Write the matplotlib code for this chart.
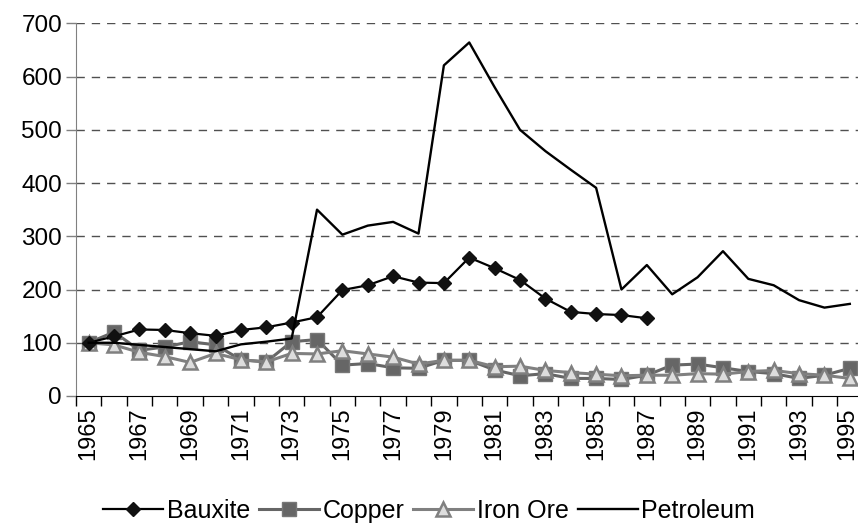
import matplotlib
matplotlib.use("Agg")
import matplotlib.pyplot as plt
from matplotlib.ticker import FixedLocator, NullFormatter
from matplotlib.transforms import ScaledTranslation

plt.rcParams['font.family'] = ['Liberation Sans', 'DejaVu Sans']

years = list(range(1965, 1996))

bauxite = [100, 112, 125, 124, 118, 113, 124, 129, 138, 148, 199, 208, 225, 213, 212,
           260, 240, 218, 183, 158, 154, 152, 146]
copper = [100, 120, 86, 92, 102, 96, 68, 64, 102, 106, 58, 61, 53, 52, 67,
          67, 49, 38, 42, 33, 33, 31, 39, 58, 60, 53, 46, 42, 33, 39, 52]
iron_ore = [100, 96, 82, 74, 63, 80, 68, 64, 80, 79, 85, 79, 73, 60, 67,
            67, 55, 56, 48, 44, 41, 38, 39, 39, 42, 41, 46, 48, 42, 39, 33]
petroleum = [100, 100, 96, 92, 88, 84, 97, 102, 108, 350, 303, 320, 327, 305, 621,
             664, 580, 500, 460, 425, 391, 200, 246, 191, 223, 272, 220, 208, 180, 166, 173]

y_ticks = [0, 100, 200, 300, 400, 500, 600, 700]

fig = plt.figure(figsize=(8.58, 5.27), dpi=100)
ax = fig.add_axes([76/858, 131/527, (862.5-76)/858, (396-23.3)/527])

x = list(range(len(years)))

ax.plot(x[:len(bauxite)], bauxite, color='#000000', lw=1.6, marker='D', markersize=7.5,
        markerfacecolor='#111111', markeredgecolor='#111111', label='Bauxite', zorder=4)
ax.plot(x, copper, color='#666666', lw=2.2, marker='s', markersize=9.5,
        markerfacecolor='#666666', markeredgecolor='#777777', label='Copper', zorder=3)
ax.plot(x, iron_ore, color='#808080', lw=2.2, marker='^', markersize=10,
        markerfacecolor='#DDDDDD', markeredgecolor='#808080', markeredgewidth=1.8,
        label='Iron Ore', zorder=3.5)
ax.plot(x, petroleum, color='#000000', lw=1.7, label='Petroleum', zorder=5)

ax.set_xlim(-0.5, len(years) - 0.5)
ax.set_ylim(0, 700)
ax.set_yticks(y_ticks)
ax.set_yticklabels([str(v) for v in y_ticks], fontsize=17.5)
for v in y_ticks[1:]:
    ax.axhline(v, color='#505050', lw=1.0, dashes=(6, 5), zorder=1)

ax.xaxis.set_major_locator(FixedLocator(x[::2]))
ax.set_xticklabels([str(y) for y in years[::2]], rotation=90, fontsize=17)
ax.xaxis.set_minor_locator(FixedLocator([i - 0.5 for i in range(len(years) + 1)]))
ax.xaxis.set_minor_formatter(NullFormatter())
ax.tick_params(axis='x', which='major', length=0, pad=8)
ax.tick_params(axis='x', which='minor', length=7, width=1, color='black', direction='out')
ax.tick_params(axis='y', length=7, width=1, color='#808080', pad=3)

last = ax.get_xticklabels()[-1]
last.set_transform(last.get_transform() + ScaledTranslation(-3/100, 0, fig.dpi_scale_trans))

for s in ['top', 'right']:
    ax.spines[s].set_visible(False)
ax.spines['left'].set_color('#808080')
ax.spines['bottom'].set_color('black')

leg = fig.legend(loc='lower center', bbox_to_anchor=(0.5, -0.035), ncol=4, frameon=False,
                 fontsize=18, handlelength=2.4, handletextpad=0.15, columnspacing=0.35)

fig.savefig('out.png', dpi=100)
